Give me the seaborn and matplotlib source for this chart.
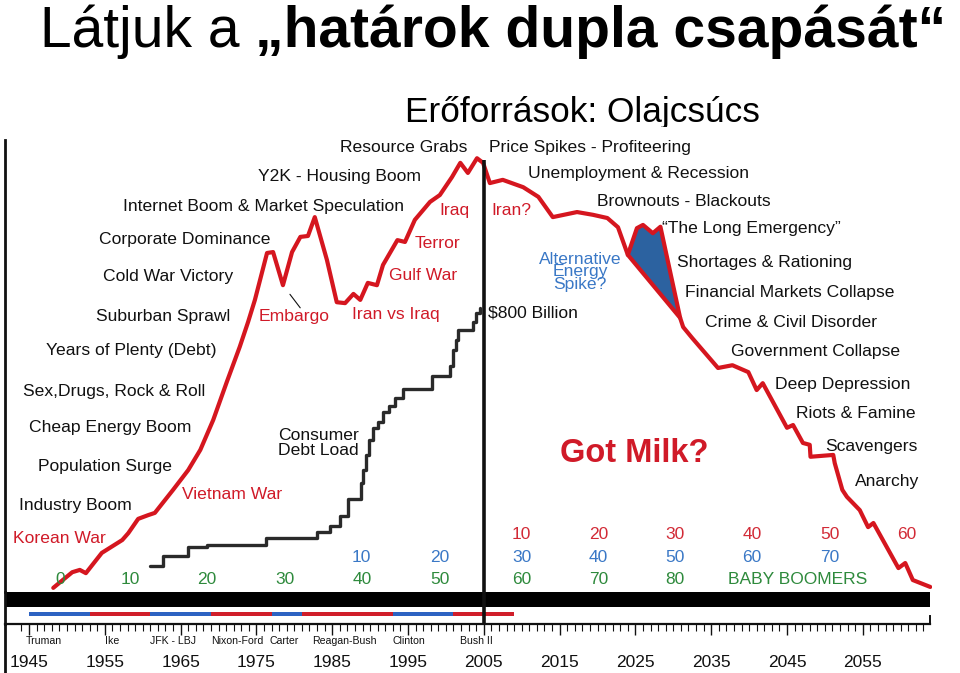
import matplotlib
matplotlib.use("Agg")
import matplotlib.pyplot as plt
import seaborn as sns
import pandas as pd
from matplotlib.lines import Line2D
from matplotlib import font_manager

# ---------------- data ----------------
# main oil-production curve: year, level
oil_year = [1948.2, 1950.7, 1951.7, 1952.5, 1954.6, 1957.3, 1958.1, 1959.4, 1960.7, 1961.6,
            1964.0, 1966.0, 1967.6, 1969.3, 1971.1, 1972.8, 1973.9, 1974.8, 1976.4, 1977.2,
            1978.5, 1979.7, 1980.8, 1981.8, 1982.7, 1984.3, 1985.6, 1986.7, 1987.8, 1988.7,
            1989.7, 1990.9, 1991.7, 1993.6, 1994.6, 1995.9, 1997.9, 1999.2, 2000.8, 2001.9,
            2002.9, 2004.1, 2004.9, 2005.8, 2007.5, 2010.2, 2012.2, 2014.1, 2017.3, 2019.4,
            2021.3, 2022.7, 2024.0, 2030.9, 2031.3, 2032.5, 2035.9, 2037.8, 2039.9, 2041.0,
            2041.8, 2045.0, 2045.8, 2047.1, 2048.0, 2048.1, 2051.1, 2051.3, 2052.3, 2052.9,
            2054.6, 2055.7, 2056.4, 2059.7, 2060.6, 2061.6, 2063.9]
oil_level = [0.9, 4.3, 4.8, 4.1, 8.5, 11.3, 12.8, 15.9, 16.7, 17.2,
             22.2, 26.5, 30.9, 37.4, 45.7, 53.3, 58.7, 63.5, 73.7, 73.9,
             66.7, 73.9, 77.2, 77.4, 81.5, 72.2, 63.0, 62.8, 64.8, 63.5,
             67.2, 66.7, 71.1, 76.5, 76.1, 80.9, 84.8, 86.3, 90.2, 93.3,
             91.1, 94.3, 93.3, 88.9, 89.6, 88.0, 85.9, 81.5, 82.6, 82.0,
             81.3, 79.3, 73.3, 59.6, 57.6, 55.2, 48.7, 49.3, 47.8, 43.9,
             45.4, 35.7, 36.3, 32.4, 32.0, 29.4, 29.8, 28.0, 22.2, 20.7,
             17.8, 14.1, 15.0, 5.2, 6.3, 2.6, 1.1]

# "Alternative energy spike?" upper edge
spike_year = [2024.0, 2025.2, 2026.0, 2027.3, 2028.3, 2030.9]
spike_level = [73.3, 79.1, 79.8, 78.0, 79.4, 59.6]

# consumer debt load (step line)
debt_year = [1961.0, 1962.7, 1966.0, 1968.5, 1976.3, 1983.0, 1984.7, 1986.0, 1987.1, 1988.8,
             1989.1, 1989.5, 1989.9, 1990.4, 1991.0, 1991.7, 1992.5, 1993.3, 1994.3, 1998.2,
             2000.5, 2000.9, 2001.3, 2001.6, 2003.6, 2004.0, 2004.5]
debt_level = [5.7, 7.8, 9.8, 10.2, 11.7, 13.0, 14.3, 16.5, 20.2, 23.7,
              26.5, 29.8, 33.0, 35.7, 37.0, 39.1, 40.4, 42.2, 44.1, 47.0,
              49.1, 52.6, 54.8, 57.0, 58.7, 60.7, 61.7]

black_labels = ["Resource Grabs", "Y2K - Housing Boom", "Internet Boom & Market Speculation",
                "Corporate Dominance", "Cold War Victory", "Suburban Sprawl",
                "Years of Plenty (Debt)", "Sex,Drugs, Rock & Roll", "Cheap Energy Boom",
                "Population Surge", "Industry Boom",
                "Price Spikes - Profiteering", "Unemployment & Recession", "Brownouts - Blackouts",
                "\u201cThe Long Emergency\u201d", "Shortages & Rationing", "Financial Markets Collapse",
                "Crime & Civil Disorder", "Government Collapse", "Deep Depression",
                "Riots & Famine", "Scavengers", "Anarchy", "$800 Billion", "Consumer\nDebt Load"]
black_x = [1986.0, 1975.2, 1957.4, 1954.2, 1954.8, 1953.8, 1947.2, 1944.2, 1945.0, 1946.2, 1943.7,
           2005.7, 2010.8, 2019.9, 2028.5, 2030.5, 2031.6, 2034.2, 2037.6, 2043.4, 2046.2,
           2050.0, 2054.0, 2005.6, 1977.9]
black_y = [96.7, 90.4, 83.7, 76.7, 68.5, 60.0, 52.4, 43.5, 35.7, 27.2, 18.9,
           96.7, 90.9, 84.8, 79.1, 71.7, 65.2, 58.5, 52.2, 45.2, 38.7,
           31.7, 24.1, 60.7, 32.4]

red_labels = ["Korean War", "Vietnam War", "Embargo", "Iran vs Iraq", "Gulf War",
              "Terror", "Iraq", "Iran?"]
red_x = [1942.9, 1965.2, 1975.3, 1987.6, 1992.5, 1995.9, 1999.2, 2006.0]
red_y = [11.7, 21.3, 60.0, 60.4, 68.7, 75.7, 83.0, 83.0]

# age rows (baby boomers and following generations)
age_cols = [1949.1, 1958.3, 1968.5, 1978.8, 1988.9, 1999.2, 2010.0, 2020.1, 2030.2, 2040.4, 2050.7, 2060.8]
boomer_ages = ["0", "10", "20", "30", "40", "50", "60", "70", "80"]
genx_ages = ["10", "20", "30", "40", "50", "60", "70"]
gen3_ages = ["10", "20", "30", "40", "50", "60"]

presidents = ["Truman", "Ike", "JFK - LBJ", "Nixon-Ford", "Carter", "Reagan-Bush", "Clinton", "Bush II"]
term_start = [1945, 1953, 1961, 1969, 1977, 1981, 1993, 2001]
term_end = [1953, 1961, 1969, 1977, 1981, 1993, 2001, 2009]
party = ["D", "R", "D", "R", "D", "R", "D", "R"]
name_x = [1944.5, 1955.0, 1961.0, 1969.0, 1976.7, 1982.3, 1993.0, 2001.9]

year_ticks = [1945, 1955, 1965, 1975, 1985, 1995, 2005, 2015, 2025, 2035, 2045, 2055]
divider_year = 2005
divider_top = 93.9

# ---------------- style ----------------
sns.set_theme(style="white")
plt.rcParams["font.family"] = ["Liberation Sans", "DejaVu Sans"]

# condensed face for the title and timeline if available
try:
    font_manager.findfont(font_manager.FontProperties(family="Liberation Sans Narrow"),
                          fallback_to_default=False)
    NARROW = ["Liberation Sans Narrow", "Liberation Sans", "DejaVu Sans"]
    HAS_NARROW = True
except Exception:
    NARROW = ["Liberation Sans", "DejaVu Sans"]
    HAS_NARROW = False

RED = "#d5161f"
BLUE = "#3a78c6"
GREEN = "#2e8a3c"
BLACK = "#111111"

W, H = 960, 673
fig = plt.figure(figsize=(W / 100, H / 100), dpi=100)

def fx(px):
    return px / W

def fy(py):
    return 1 - py / H

XMIN, XMAX = 1941.83, 2064.13

# ---------------- title ----------------
TFS = 43 if HAS_NARROW else 41
t1 = fig.text(fx(40), fy(47), "Látjuk a", fontsize=TFS, va="baseline", ha="left",
              color="black", family=NARROW)
renderer = fig.canvas.get_renderer()
bb = t1.get_window_extent(renderer)
space = (0.23 if HAS_NARROW else 0.28) * TFS * 100 / 72
fig.text((bb.x1 + space) / W, fy(47), "\u201ehatárok dupla csapását\u201c", fontsize=TFS,
         fontweight="bold", va="baseline", ha="left", color="black", family=NARROW)
fig.text(fx(405), fy(122), "Erőforrások: Olajcsúcs", fontsize=(27.5 if HAS_NARROW else 25.4),
         va="baseline", ha="left", color="black", zorder=-1, family=NARROW)

# ---------------- main chart ----------------
ax = fig.add_axes([fx(5), fy(592), fx(932) - fx(5), fy(127) - fy(592)], zorder=0)
ax.set_facecolor("white")
ax.set_xlim(XMIN, XMAX)
ax.set_ylim(0, 101.09)
ax.set_xticks([])
ax.set_yticks([])
for s in ["top", "right", "bottom"]:
    ax.spines[s].set_visible(False)
ax.spines["left"].set_color(BLACK)
ax.spines["left"].set_linewidth(2)
ax.spines["left"].set_bounds(0, 98.3)

oil = pd.DataFrame({"year": oil_year, "level": oil_level})
spike = pd.DataFrame({"year": spike_year, "level": spike_level})
debt = pd.DataFrame({"year": debt_year, "level": debt_level})

# blue spike area between the spike edge and the main curve
lower = oil[(oil.year >= 2024.0) & (oil.year <= 2030.9)]
poly_x = list(spike.year) + list(lower.year[::-1])
poly_y = list(spike.level) + list(lower.level[::-1])
ax.fill(poly_x, poly_y, color="#2c62a0", zorder=2, lw=0)

sns.lineplot(data=oil, x="year", y="level", sort=False, estimator=None, color=RED,
             lw=3.0, ax=ax, zorder=3)
sns.lineplot(data=spike, x="year", y="level", sort=False, estimator=None, color=RED,
             lw=3.0, ax=ax, zorder=3)
sns.lineplot(data=debt, x="year", y="level", sort=False, estimator=None, color="#2a2a2a",
             lw=2.4, drawstyle="steps-post", ax=ax, zorder=3)
ax.set_xlabel("")
ax.set_ylabel("")

ax.vlines(divider_year, 0, divider_top, color=BLACK, lw=2.6, zorder=4)

# embargo pointer
ax.annotate("", xy=(1981.0, 61.3), xytext=(1979.2, 65.2),
            arrowprops=dict(arrowstyle="-", color=BLACK, lw=0.8))

LFS = 12.6
for t, x, y in zip(black_labels, black_x, black_y):
    ax.text(x, y, t, fontsize=LFS, color=BLACK, ha="left", va="center",
            linespacing=0.95, zorder=5)
for t, x, y in zip(red_labels, red_x, red_y):
    ax.text(x, y, t, fontsize=LFS, color="#d01a28", ha="left", va="center", zorder=5)

ax.text(2017.7, 69.6, "Alternative\nEnergy\nSpike?", fontsize=LFS, color=BLUE,
        ha="center", va="center", linespacing=0.78, zorder=5)
ax.text(2015.0, 30.2, "Got Milk?", fontsize=23.5, fontweight="bold", color="#d01a28",
        ha="left", va="center", zorder=5)

AFS = 12.5
for lab, x in zip(boomer_ages, age_cols):
    ax.text(x, 2.8, lab, fontsize=AFS, color=GREEN, ha="center", va="center")
ax.text(2037.2, 2.8, "BABY BOOMERS", fontsize=AFS, color=GREEN, ha="left", va="center")
for lab, x in zip(genx_ages, age_cols[4:]):
    ax.text(x, 7.6, lab, fontsize=AFS, color=BLUE, ha="center", va="center")
for lab, x in zip(gen3_ages, age_cols[6:]):
    ax.text(x, 12.4, lab, fontsize=AFS, color="#d22a36", ha="center", va="center")

# ---------------- timeline strip ----------------
axt = fig.add_axes([fx(5), fy(624), fx(932) - fx(5), fy(592) - fy(624)], zorder=1)
axt.set_facecolor("white")
axt.set_xlim(XMIN, XMAX)
axt.set_ylim(0, 32)
axt.axhspan(17, 32, xmin=0, xmax=(2063.9 - XMIN) / (XMAX - XMIN), color="black", lw=0)
pcol = {"D": "#2d63c2", "R": "#d01e2a"}
axt.barh([10] * len(presidents), [e - s for s, e in zip(term_start, term_end)],
         left=term_start, height=4, color=[pcol[p] for p in party], lw=0)
axt.axvline(divider_year, color=BLACK, lw=2.6)

axt.spines["top"].set_visible(False)
axt.spines["right"].set_bounds(0, 8)
axt.spines["right"].set_linewidth(1.4)
axt.spines["right"].set_position(("data", 2063.9))
for s in ["left", "bottom", "right"]:
    axt.spines[s].set_color(BLACK)
axt.spines["left"].set_linewidth(2)
axt.spines["bottom"].set_linewidth(1.6)
axt.spines["bottom"].set_bounds(XMIN, 2063.9)

axt.set_yticks([])
axt.set_xticks(year_ticks)
axt.set_xticklabels([str(y) for y in year_ticks], fontsize=(14 if HAS_NARROW else 12.5),
                    color=BLACK, family=NARROW)
axt.set_xticks(list(range(1944, 2064)), minor=True)
axt.tick_params(axis="x", which="major", direction="out", length=8, width=1.0,
                color=BLACK, pad=(13 if HAS_NARROW else 14.5), bottom=True)
axt.tick_params(axis="x", which="minor", direction="out", length=5, width=0.8,
                color=BLACK, bottom=True)

for n, x in zip(presidents, name_x):
    axt.text(x, -17, n, fontsize=(8.4 if HAS_NARROW else 7.6), color=BLACK, ha="left",
             va="center", clip_on=False, family=NARROW)

# left border continuing down
fig.add_artist(Line2D([fx(5), fx(5)], [fy(624), fy(673)], color=BLACK, lw=2,
                      transform=fig.transFigure))

fig.savefig("out.png", dpi=100, facecolor="white")
